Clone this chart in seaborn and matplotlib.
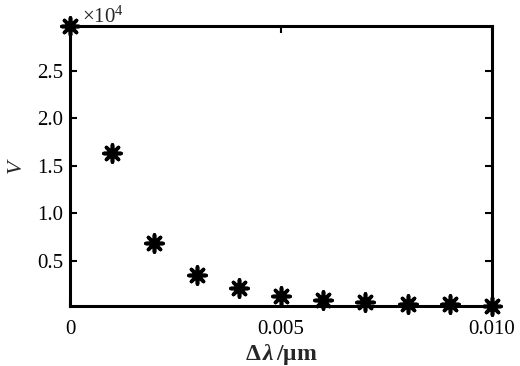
import matplotlib
matplotlib.use("Agg")
import matplotlib.pyplot as plt
import seaborn as sns
import pandas as pd
import numpy as np

# data (V in units of 1e4)
delta_lambda = [0.000, 0.001, 0.002, 0.003, 0.004, 0.005, 0.006, 0.007, 0.008, 0.009, 0.010]
V = [2.97, 1.63, 0.69, 0.35, 0.21, 0.13, 0.09, 0.07, 0.05, 0.05, 0.026]
xticks = [0, 0.005, 0.010]
xticklabels = ["0", "0.005", "0.010"]
yticks = [0.5, 1.0, 1.5, 2.0, 2.5]
yticklabels = ["0.5", "1.0", "1.5", "2.0", "2.5"]

sns.set_theme(style="white")
plt.rcParams['font.family'] = ['Liberation Serif', 'DejaVu Serif']
plt.rcParams['mathtext.fontset'] = 'custom'
plt.rcParams['mathtext.rm'] = 'Liberation Serif'
plt.rcParams['mathtext.it'] = 'Liberation Serif:italic:bold'
plt.rcParams['mathtext.bf'] = 'Liberation Serif:bold'

df = pd.DataFrame({"dl": delta_lambda, "V": V})

fig = plt.figure(figsize=(5.2, 3.66), dpi=100)
ax = fig.add_axes([0.1346, 0.164, 0.946 - 0.1346, 0.929 - 0.164])

sns.scatterplot(data=df, x="dl", y="V", ax=ax, marker=(8, 2, 0), s=150,
                color="black", edgecolor="black", linewidth=2.6, zorder=5, clip_on=False)

ax.set_xlim(0, 0.010)
ax.set_ylim(0.026, 2.97)
ax.set_xticks(xticks)
ax.set_xticklabels(xticklabels)
ax.set_yticks(yticks)
ax.set_yticklabels(yticklabels)
ax.tick_params(direction="in", length=5, width=1.5, colors="black", labelsize=15,
               top=True, right=True, bottom=True, left=True, pad=5)
ax.tick_params(axis="x", pad=10)
for s in ax.spines.values():
    s.set_linewidth(2.2)
    s.set_color("black")
    s.set_visible(True)

ax.set_xlabel(r"$\mathbf{\Delta}\,\mathit{\lambda}\,$/μm", fontsize=17, fontweight="bold", labelpad=2)
ax.set_ylabel("V", fontsize=16, style="italic", labelpad=8)
ax.text(0.028, 0.995, r"×10$^4$", transform=ax.transAxes, fontsize=15, va="bottom", ha="left")

fig.savefig("out.png", dpi=100)
